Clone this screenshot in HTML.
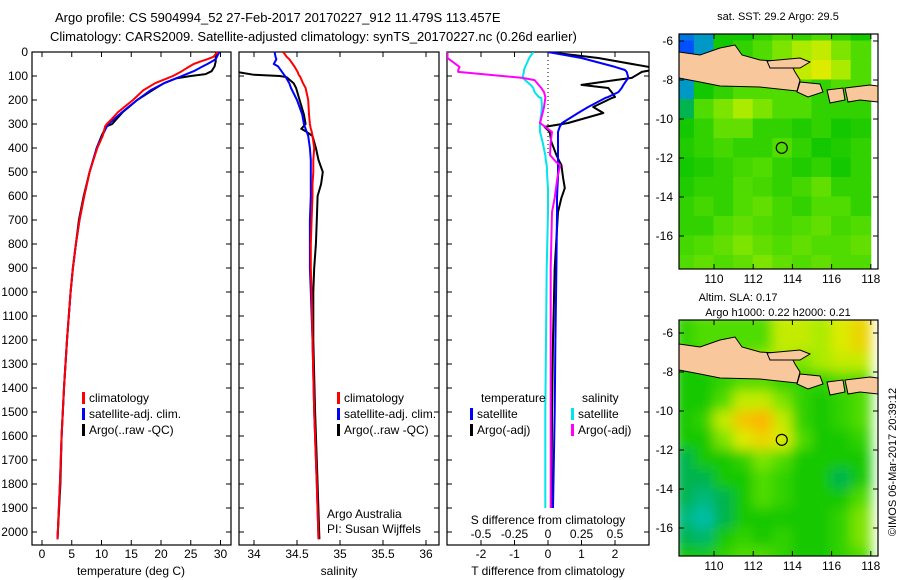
<!DOCTYPE html>
<html><head><meta charset="utf-8">
<style>
body{margin:0;background:#fff;}
svg{display:block;font-family:"Liberation Sans",sans-serif;}
text{font-size:12px;fill:#000;}
</style></head>
<body>
<svg id="fig" width="900" height="580" viewBox="0 0 900 580">
<text x="55" y="22" style="font-size:13px">Argo profile: CS 5904994_52 27-Feb-2017 20170227_912 11.479S 113.457E</text>
<text x="50" y="41" style="font-size:13px">Climatology: CARS2009. Satellite-adjusted climatology: synTS_20170227.nc (0.26d earlier)</text>
<text x="778" y="20" text-anchor="middle" style="font-size:11px">sat. SST: 29.2 Argo: 29.5</text>
<text x="738" y="301" text-anchor="middle" style="font-size:11px">Altim. SLA: 0.17</text>
<text x="778" y="316" text-anchor="middle" style="font-size:11px">Argo h1000: 0.22 h2000: 0.21</text>
<text transform="translate(896,462) rotate(-90)" text-anchor="middle" style="font-size:11px">©IMOS 06-Mar-2017 20:39:12</text>
<g id="g"></g>
</svg>
<script>
// ---- data ----
const tDepth = [0,20,30,40,50,60,80,92,100,110,130,160,200,250,280,300,310,350,400,500,600,700,800,900,1000,1200,1400,1600,1800,2030];
const tClim  = [29.5,28.8,27.8,26.6,25.5,24.8,23.5,22.6,22,21,19,17,15.3,12.8,11.7,10.9,10.6,10.2,9.3,8.0,7.1,6.3,5.7,5.2,4.8,4.2,3.7,3.3,3.0,2.6];
const tSat   = [29.8,29.4,29.2,28.5,27.8,27,25.5,24.3,23.5,22.5,20.5,18.2,16,13.5,12.1,11.2,10.9,10.1,9.2,8.0,7.1,6.3,5.7,5.2,4.8,4.2,3.7,3.3,3.0,2.6];
const tArgo  = [29.3,29.2,29.2,29.2,29.1,29.0,28.5,27.5,25,22.5,20.5,18.5,16,13.6,12.5,11.8,10.8,10,9.2,8.0,7.0,6.2,5.7,5.2,4.8,4.2,3.7,3.3,3.1,2.6];
const sDepth = [0,20,30,50,60,85,95,100,105,130,150,200,260,300,320,330,350,400,450,500,550,600,700,800,900,1000,1200,1500,1800,2030];
const sClim  = [34.34,34.38,34.41,34.45,34.47,34.51,34.52,34.53,34.54,34.57,34.6,34.63,34.64,34.65,34.66,34.67,34.68,34.7,34.69,34.69,34.68,34.68,34.67,34.66,34.66,34.67,34.68,34.7,34.73,34.75];
const sSat   = [34.24,34.25,34.26,34.23,34.28,34.33,34.35,34.36,34.37,34.41,34.43,34.5,34.56,34.58,34.6,34.61,34.63,34.65,34.66,34.66,34.66,34.66,34.65,34.65,34.65,34.66,34.68,34.7,34.73,34.75];
const sArgo  = [null,null,null,null,null,33.83,34.0,34.3,34.38,34.46,34.49,34.53,34.58,34.6,34.55,34.6,34.68,34.72,34.75,34.8,34.78,34.74,34.73,34.72,34.7,34.69,34.69,34.71,34.74,34.76];
const dDepth = [0,25,62,75,83,108,117,137,150,167,187,192,229,254,296,312,333,375,429,458,471,525,567,608,667,900,1200,1500,1900];
const dTsat  = [0,1.0,2.0,2.3,2.35,2.4,2.35,2.25,2.2,2.1,1.8,1.7,1.2,0.9,0.42,0.35,0.3,0.3,0.3,0.3,0.3,0.3,0.28,0.27,0.27,0.25,0.22,0.2,0.15];
const dTargo = [0,1.5,3.0,3.1,2.8,2.5,2.0,1.0,1.8,1.9,2.0,1.9,1.35,1.65,0.6,-0.1,0.05,0.1,0.25,0.35,0.4,0.45,0.5,0.4,0.3,0.2,0.15,0.12,0.1];
const dSsat  = [-0.11,-0.14,-0.17,-0.18,-0.18,-0.19,-0.17,-0.13,-0.11,-0.1,-0.07,-0.05,-0.045,-0.05,-0.06,-0.06,-0.06,-0.04,-0.02,-0.015,-0.01,-0.005,0,0,0,-0.01,-0.015,-0.02,-0.02];
const dSargo = [-0.75,-0.75,-0.66,-0.67,-0.67,-0.19,-0.1,-0.07,-0.05,-0.03,-0.02,-0.02,-0.03,-0.04,-0.06,-0.02,0.03,0.02,0.015,0.06,0.09,0.07,0.06,0.05,0.03,0.02,0.02,0.02,0.02];
const depthTicks = [0,100,200,300,400,500,600,700,800,900,1000,1100,1200,1300,1400,1500,1600,1700,1800,1900,2000];
const tTicks = [0,5,10,15,20,25,30];
const sTicks = [34,34.5,35,35.5,36];
const sTickLabels = ["34","34.5","35","35.5","36"];
const dTTicks = [-2,-1,0,1,2];
const dSTicks = [-0.5,-0.25,0,0.25,0.5];
const dSTickLabels = ["-0.5","-0.25","0","0.25","0.5"];
const lonTicks = [110,112,114,116,118];
const latTicks = [-6,-8,-10,-12,-14,-16];
const mapLons = [108.5,109.5,110.5,111.5,112.5,113.5,114.5,115.5,116.5,117.5];
const mapLats = [-5.5,-6.5,-7.5,-8.5,-9.5,-10.5,-11.5,-12.5,-13.5,-14.5,-15.5,-16.5,-17.5];
const sstGrid = [
[0.25,0.3,0.5,0.5,0.55,0.6,0.55,0.6,0.55,0.5],
[0.2,0.3,0.5,0.55,0.6,0.65,0.7,0.75,0.65,0.6],
[0.3,0.45,0.5,0.6,0.6,0.7,0.75,0.8,0.7,0.6],
[0.3,0.5,0.55,0.6,0.6,0.6,0.6,0.55,0.6,0.6],
[0.45,0.6,0.65,0.7,0.65,0.6,0.6,0.55,0.55,0.55],
[0.5,0.55,0.62,0.62,0.55,0.55,0.52,0.55,0.5,0.52],
[0.52,0.55,0.58,0.55,0.55,0.6,0.55,0.5,0.52,0.55],
[0.5,0.52,0.55,0.58,0.6,0.55,0.52,0.55,0.5,0.55],
[0.52,0.55,0.55,0.6,0.58,0.55,0.58,0.62,0.55,0.55],
[0.55,0.58,0.55,0.6,0.62,0.58,0.55,0.6,0.6,0.55],
[0.55,0.55,0.6,0.62,0.6,0.58,0.6,0.62,0.58,0.6],
[0.58,0.6,0.62,0.65,0.62,0.6,0.62,0.6,0.6,0.62],
[0.6,0.62,0.6,0.62,0.65,0.62,0.6,0.62,0.6,0.6]];
const slaGrid = [
[0.55,0.6,0.6,0.6,0.6,0.75,0.75,0.7,0.8,0.85],
[0.55,0.6,0.6,0.6,0.6,0.75,0.75,0.7,0.8,0.85],
[0.5,0.55,0.6,0.65,0.7,0.7,0.65,0.7,0.75,0.75],
[0.5,0.5,0.55,0.6,0.6,0.55,0.55,0.55,0.6,0.6],
[0.5,0.5,0.6,0.75,0.75,0.65,0.55,0.5,0.55,0.6],
[0.5,0.55,0.75,0.88,0.92,0.75,0.55,0.5,0.55,0.6],
[0.5,0.5,0.65,0.8,0.85,0.8,0.6,0.5,0.5,0.55],
[0.45,0.5,0.5,0.55,0.65,0.6,0.5,0.5,0.5,0.5],
[0.45,0.45,0.5,0.5,0.6,0.55,0.5,0.5,0.45,0.5],
[0.45,0.4,0.45,0.5,0.6,0.55,0.5,0.5,0.5,0.6],
[0.4,0.35,0.45,0.5,0.5,0.5,0.5,0.5,0.55,0.65],
[0.45,0.42,0.5,0.55,0.5,0.55,0.5,0.5,0.55,0.65],
[0.5,0.5,0.55,0.6,0.6,0.55,0.5,0.5,0.55,0.6]];
const argoLon = 113.457, argoLat = -11.479;

// ---- helpers ----
const NS="http://www.w3.org/2000/svg";
const G=document.getElementById('g');
function mk(tag,attrs,parent){const e=document.createElementNS(NS,tag);for(const k in attrs)e.setAttribute(k,attrs[k]);(parent||G).appendChild(e);return e;}
const yD = d => 52 + d*0.24;
const PT = {x0:32,x1:231}, PS={x0:239,x1:439}, PD={x0:447,x1:649};
const PY0=52, PY1=545;
const xT = v => 42 + v*5.95;
const xS = v => 254 + (v-34)*86;
const xDT = v => 548 + v*33.5;
const xDS = v => 548 + v*134;

function frame(p,name){
  const r=mk('rect',{x:p.x0,y:PY0,width:p.x1-p.x0,height:PY1-PY0,fill:'none',stroke:'#000','stroke-width':1.2});
  
  
  depthTicks.forEach(d=>{
    const y=yD(d);
    mk('line',{x1:p.x0,x2:p.x0+5,y1:y,y2:y,stroke:'#000'});
    mk('line',{x1:p.x1,x2:p.x1-5,y1:y,y2:y,stroke:'#000'});
  });
}
function xticks(p,ticks,fx,labels,ly,name,top){
  ticks.forEach((v,i)=>{
    const x=fx(v);
    mk('line',{x1:x,x2:x,y1:PY1,y2:PY1-5,stroke:'#000'});
    if(top!==false) mk('line',{x1:x,x2:x,y1:PY0,y2:PY0+5,stroke:'#000'});
    const t=mk('text',{x:x,y:ly,'text-anchor':'middle'});
    t.textContent=labels?labels[i]:String(v);
    
    
  });
}
function line(xs,ds,fx,color,name,clip){
  let d='',pen=false;
  ds.forEach((dep,i)=>{
    if(xs[i]===null||xs[i]===undefined){pen=false;return;}
    d+=(pen?'L':'M')+fx(xs[i]).toFixed(1)+','+yD(dep).toFixed(1);pen=true;
  });
  const attrs={d:d,fill:'none',stroke:color,'stroke-width':2,'stroke-linejoin':'round'};
  if(clip)attrs['clip-path']='url(#'+clip+')';
  const e=mk('path',attrs);
  
  
}
function label(x,y,s,name,anchor){
  const t=mk('text',{x:x,y:y,'text-anchor':anchor||'start'});t.textContent=s;
  
  
  return t;
}

const defs=mk('defs',{});
[['clipD',PD.x0,PY0,PD.x1-PD.x0,PY1-PY0],['clipS',PS.x0,PY0,PS.x1-PS.x0,PY1-PY0],['clipM1',679,34,199,235],['clipM2',679,320,199,236]].forEach(c=>{
  const cp=mk('clipPath',{id:c[0]},defs);mk('rect',{x:c[1],y:c[2],width:c[3],height:c[4]},cp);
});
const bl=mk('filter',{id:'blur',x:'-5%',y:'-5%',width:'110%',height:'110%'},defs);
mk('feGaussianBlur',{stdDeviation:6},bl);

// depth labels
depthTicks.forEach(d=>{label(28,yD(d)+4,String(d),'depth-tick-label','end');});

// panel 1 temperature
frame(PT,'temperature-panel');
xticks(PT,tTicks,xT,null,558,'temperature-tick-label');
label(131,575,'temperature (deg C)','temperature-axis-title','middle');
line(tArgo,tDepth,xT,'#000','temp-argo-line');
line(tSat,tDepth,xT,'#0000ff','temp-satellite-line');
line(tClim,tDepth,xT,'#ff0000','temp-climatology-line');

// panel 2 salinity
frame(PS,'salinity-panel');
xticks(PS,sTicks,xS,sTickLabels,558,'salinity-tick-label');
label(339,575,'salinity','salinity-axis-title','middle');
line(sArgo,sDepth,xS,'#000','sal-argo-line','clipS');
line(sSat,sDepth,xS,'#0000ff','sal-satellite-line','clipS');
line(sClim,sDepth,xS,'#ff0000','sal-climatology-line','clipS');
label(327,518,'Argo Australia','argo-australia-note');
label(327,533,'PI: Susan Wijffels','pi-note');

// legends
function legend(x,y,items,pre){
  items.forEach((it,i)=>{
    const yy=y+i*16;
    const r=mk('rect',{x:x,y:yy-10,width:3,height:12,fill:it[0]});
    
    
    label(x+7,yy,it[1],pre+'-label');
  });
}
legend(82,402,[['#ff0000','climatology'],['#0000ff','satellite-adj. clim.'],['#000','Argo(..raw -QC)']],'temp-legend');
legend(337,402,[['#ff0000','climatology'],['#0000ff','satellite-adj. clim.'],['#000','Argo(..raw -QC)']],'sal-legend');

// panel 3 differences
frame(PD,'difference-panel');
mk('line',{x1:548,x2:548,y1:PY0,y2:155,stroke:'#000','stroke-dasharray':'1,3'});
xticks(PD,dTTicks,xDT,null,558,'t-diff-tick-label',true);
dSTicks.forEach((v,i)=>{label(xDS(v),538,dSTickLabels[i],'s-diff-tick-label','middle');});
label(548,524,'S difference from climatology','s-diff-axis-title','middle');
label(548,575,'T difference from climatology','t-diff-axis-title','middle');
line(dTargo,dDepth,xDT,'#000','tdiff-argo-line','clipD');
line(dTsat,dDepth,xDT,'#0000ff','tdiff-satellite-line','clipD');
line(dSsat,dDepth,xDS,'#00e5ee','sdiff-satellite-line','clipD');
line(dSargo,dDepth,xDS,'#ff00ff','sdiff-argo-line','clipD');
label(481,402,'temperature','diff-legend-temp-header');
label(582,402,'salinity','diff-legend-sal-header');
legend(470,418,[['#0000ff','satellite'],['#000','Argo(-adj)']],'diff-legend-temp');
legend(571,418,[['#00e5ee','satellite'],['#ff00ff','Argo(-adj)']],'diff-legend-sal');

// maps
function cmap(v){
  const stops=[[0.2,[0,80,255]],[0.35,[0,190,170]],[0.45,[0,180,80]],[0.5,[20,200,0]],[0.6,[80,220,0]],[0.7,[170,235,0]],[0.8,[220,235,0]],[0.92,[255,180,0]]];
  if(v<=stops[0][0])return 'rgb('+stops[0][1]+')';
  for(let i=1;i<stops.length;i++){if(v<=stops[i][0]){const a=stops[i-1],b=stops[i],t=(v-a[0])/(b[0]-a[0]);return 'rgb('+a[1].map((c,k)=>Math.round(c+(b[1][k]-c)*t)).join(',')+')';}}
  return 'rgb('+stops[stops.length-1][1]+')';
}
const land=[
 [[0,18],[21,21],[41,14],[56,11],[63,21],[81,26],[111,28],[116,38],[121,46],[118,57],[81,53],[41,52],[21,48],[0,44]],
 [[88,27],[121,24],[131,28],[121,34],[91,34]],
 [[121,48],[141,50],[144,58],[129,63],[118,58]],
 [[148,56],[164,54],[166,66],[151,69]],
 [[166,54],[191,51],[199,52],[199,68],[181,66],[169,68]]];
function drawMap(x0,y0,yLat6,grid,name,smooth,clip){
  const xL = lon => 714 + (lon-110)*19.6;
  const yL = lat => yLat6 + (-6-lat)*19.5;
  const g=mk('g',{'clip-path':'url(#'+clip+')'});
  
  
  const inner=mk('g',smooth?{filter:'url(#blur)'}:{},g);
  grid.forEach((row,r)=>row.forEach((v,c)=>{
    const cell=mk('rect',{x:xL(mapLons[c]-0.5)-0.5,y:yL(mapLats[r]+0.5)-0.5,width:20.6,height:20.5,fill:cmap(v)},inner);
    
    
  }));
  const off=yLat6-41;
  land.forEach(poly=>{
    const p=mk('polygon',{points:poly.map(q=>(679+q[0])+','+(34+q[1]+off)).join(' '),fill:'#f8c89c',stroke:'#000','stroke-width':1},g);
    
    
  });
  const c=mk('circle',{cx:xL(argoLon),cy:yL(argoLat),r:5.5,fill:'none',stroke:'#000','stroke-width':1.2});
  
  
  const h=clip==='clipM1'?235:236;
  mk('rect',{x:x0,y:y0,width:199,height:h,fill:'none',stroke:'#000','stroke-width':1.2});
  lonTicks.forEach(l=>{const x=xL(l);mk('line',{x1:x,x2:x,y1:y0,y2:y0+5,stroke:'#000'});mk('line',{x1:x,x2:x,y1:y0+h,y2:y0+h-5,stroke:'#000'});
    label(x,y0+h+14,String(l),'lon-tick-label','middle');});
  latTicks.forEach(l=>{const y=yL(l);mk('line',{x1:x0,x2:x0+5,y1:y,y2:y,stroke:'#000'});mk('line',{x1:x0+199,x2:x0+194,y1:y,y2:y,stroke:'#000'});
    label(673,y+4,String(l),'lat-tick-label','end');});
}
drawMap(679,34,41,sstGrid,'sst-map',false,'clipM1');
drawMap(679,320,333,slaGrid,'sla-map',true,'clipM2');
</script>
</body></html>
